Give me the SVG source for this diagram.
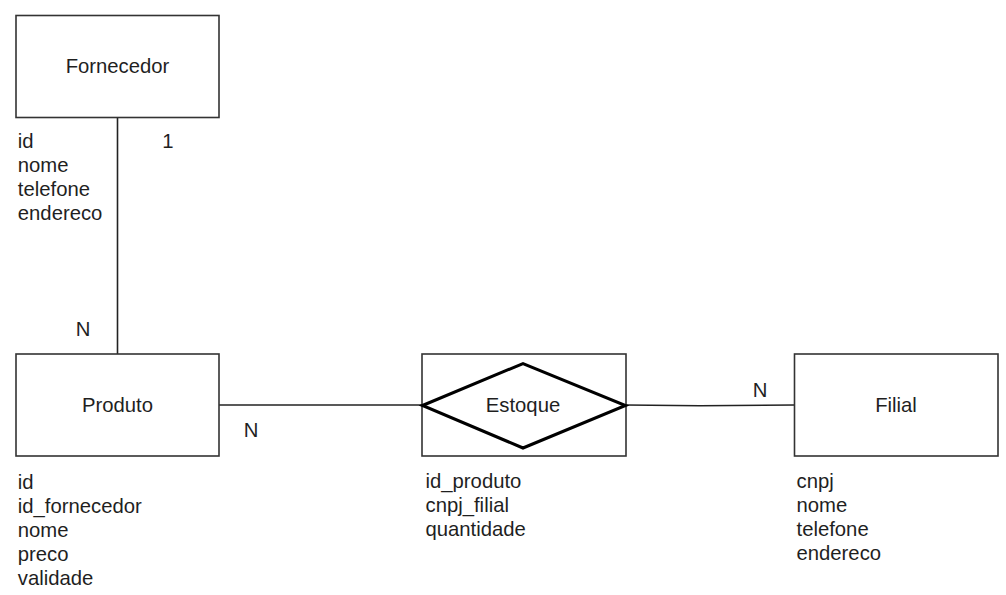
<svg xmlns="http://www.w3.org/2000/svg" width="1006" height="595" viewBox="0 0 1006 595">
  <style>
    .box { fill: #ffffff; stroke: #333333; stroke-width: 1.6; }
    .rel { fill: #ffffff; stroke: #000000; stroke-width: 3; stroke-linejoin: miter; }
    .edge { fill: none; stroke: #222222; stroke-width: 1.6; }
    text { font-family: "Liberation Sans", Arial, sans-serif; font-size: 20.3px; fill: #1f1f1f; }
    .c { text-anchor: middle; }
  </style>
  <rect width="1006" height="595" fill="#ffffff"/>
  <g id="connectors">
    <line class="edge" x1="117.5" y1="117.5" x2="117.5" y2="354"/>
    <line class="edge" x1="219" y1="405" x2="422" y2="405"/>
    <path class="edge" d="M626,405 L700,405.8 L794.5,405"/>
    <text class="c" x="168" y="148">1</text>
    <text class="c" x="83" y="336">N</text>
    <text class="c" x="251" y="437">N</text>
    <text class="c" x="760" y="397">N</text>
  </g>
  <g id="fornecedor">
    <rect class="box" x="16" y="15.5" width="203" height="102"/>
    <text class="c" x="117.5" y="73">Fornecedor</text>
    <text x="17.8" y="148">id</text>
    <text x="17.8" y="172">nome</text>
    <text x="17.8" y="196">telefone</text>
    <text x="17.8" y="220">endereco</text>
  </g>
  <g id="produto">
    <rect class="box" x="16" y="354" width="203" height="102"/>
    <text class="c" x="117.5" y="412">Produto</text>
    <text x="17.8" y="489">id</text>
    <text x="17.8" y="513">id_fornecedor</text>
    <text x="17.8" y="537">nome</text>
    <text x="17.8" y="561">preco</text>
    <text x="17.8" y="585">validade</text>
  </g>
  <g id="estoque">
    <rect class="box" x="422" y="354" width="204" height="102"/>
    <polygon class="rel" points="422.5,405.5 523,363.5 625.5,405.5 523,448"/>
    <text class="c" x="523" y="412">Estoque</text>
    <text x="425.5" y="488">id_produto</text>
    <text x="425.5" y="512">cnpj_filial</text>
    <text x="425.5" y="536">quantidade</text>
  </g>
  <g id="filial">
    <rect class="box" x="794.5" y="354" width="203.5" height="102"/>
    <text class="c" x="896" y="412">Filial</text>
    <text x="796.5" y="488">cnpj</text>
    <text x="796.5" y="512">nome</text>
    <text x="796.5" y="536">telefone</text>
    <text x="796.5" y="560">endereco</text>
  </g>
</svg>
